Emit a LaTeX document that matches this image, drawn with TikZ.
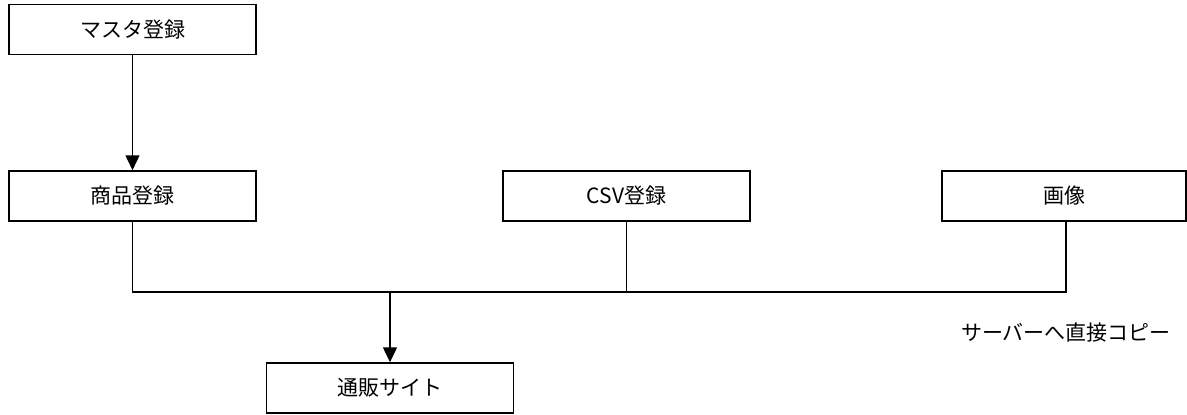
\documentclass[tikz,border=0pt]{standalone}
\usepackage{fontspec}
\setmainfont{Noto Sans CJK JP}
\usetikzlibrary{arrows.meta}
\begin{document}
\begin{tikzpicture}[x=1pt,y=-1pt,
  box/.style={draw,line width=1.5pt,minimum width=247pt,minimum height=50pt,inner sep=0pt,font=\fontsize{21}{25}\selectfont},
  conn/.style={line width=1.5pt},
  arr/.style={conn,-{Triangle[width=14pt,length=15pt]}}]
\useasboundingbox (0,0) rectangle (1187,415);
\node[box] (master) at (132.5,29.5) {マスタ登録};
\node[box] (shohin) at (132.5,196) {商品登録};
\node[box] (csv) at (626.5,196) {CSV登録};
\node[box,minimum width=244pt] (gazo) at (1064,196) {画像};
\node[box] (tsuhan) at (390,388) {通販サイト};
\node[font=\fontsize{21}{25}\selectfont] (note) at (1066,332) {サーバーへ直接コピー};
\coordinate (busL) at (132.5,292);
\coordinate (busR) at (1066,292);
\coordinate (busC) at (626.5,292);
\coordinate (busT) at (390,292);
\draw[arr] (master.south) -- (shohin.north);
\draw[conn] (shohin.south) -- (busL) -- (busR) -- (gazo.south -| busR);
\draw[conn] (csv.south) -- (busC);
\draw[arr] (busT) -- (tsuhan.north);
\end{tikzpicture}
\end{document}
